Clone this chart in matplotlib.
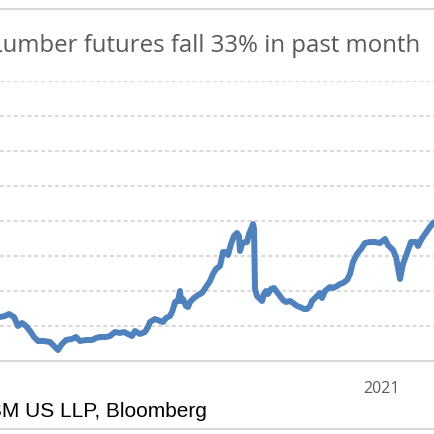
import matplotlib
matplotlib.use("Agg")
import matplotlib.pyplot as plt
from matplotlib.lines import Line2D

# months since Jan 2013
months = [0.5, 1.75, 2.75, 4, 5, 6, 7, 8, 9, 10, 11.5, 13, 14, 15, 16, 17, 18.5, 19.5, 20.5, 22,
          23.5, 24.5, 25.5, 27, 28, 29.25, 30.5, 31.5, 32.5, 33.5, 34.25, 35.5, 36.75, 37.5, 38,
          39.25, 40.5, 41.25, 42, 43, 43.5, 44, 44.25, 45, 45.5, 45.75, 46.25, 47, 47.5, 48, 49,
          50, 51, 52, 53, 53.75, 54.5, 55.5, 56.25, 57, 57.5, 58.25, 59, 59.75, 60.25, 60.5, 61,
          61.75, 62.25, 62.75, 63.5, 63.75, 64, 64.25, 64.75, 65.5, 66, 66.5, 67, 67.5, 68.25,
          69, 69.75, 70.5, 71.25, 72, 73, 73.75, 74.75, 75.5, 76.5, 77.25, 78, 78.5, 79.5, 80.5,
          81, 81.75, 83, 83.75, 84.75, 85.5, 86.25, 87.25, 88, 88.75, 89.75, 90.75, 91.75, 93,
          94.25, 95.5, 96.75, 97.5, 98.75, 99.5, 100.5, 101.25, 102.25, 103.25, 104.5, 105,
          105.75, 106.75, 108, 108.75, 109.25]
price = [125.7, 128.6, 134.3, 125.7, 100, 108.6, 100, 85.7, 68.6, 57.1, 57.1, 54.3, 42.9, 31.4,
         48.6, 60, 62.9, 68.6, 57.1, 60, 60, 65.7, 68.6, 68.6, 71.4, 82.9, 80, 82.9, 77.1, 71.4,
         85.7, 77.1, 82.9, 97.1, 111.4, 120, 114.3, 111.4, 122.9, 128.6, 140, 157.1, 168.6,
         171.4, 200, 171.4, 177.1, 157.1, 154.3, 168.6, 180, 188.6, 194.3, 211.4, 228.6, 248.6,
         262.9, 271.4, 311.4, 311.4, 302.9, 334.3, 357.1, 365.7, 357.1, 314.3, 334.3, 340, 340,
         362.9, 382.9, 391.4, 377.1, 205.7, 185.7, 177.1, 171.4, 191.4, 200, 191.4, 205.7,
         208.6, 197.1, 185.7, 174.3, 168.6, 171.4, 165.7, 157.1, 154.3, 148.6, 148.6, 157.1,
         171.4, 182.9, 194.3, 180, 200, 211.4, 208.6, 214.3, 220, 222.9, 231.4, 248.6, 282.9,
         305.7, 320, 337.1, 340, 340, 337.1, 348.6, 331.4, 317.1, 297.1, 234.3, 277.1, 308.6,
         340, 340, 328.6, 345.7, 362.9, 382.9, 394.3, 397.1]

title = "Lumber futures fall 33% in past month"
source = "Source: RSM US LLP, Bloomberg"
year_ticks = [96]
year_labels = ["2021"]

fig = plt.figure(figsize=(4.35, 4.35), dpi=100)
ax = fig.add_axes([0, 73 / 435, 1, 280 / 435])

ax.plot(months, price, color="#4F81BD", lw=4.3, solid_joinstyle="round",
        solid_capstyle="round", zorder=3)

ax.set_xlim(0.5, 109.25)
ax.set_ylim(0, 800)
ax.set_yticks(range(100, 801, 100))
ax.set_yticklabels([])
ax.yaxis.grid(True, color="#D9D9D9", lw=1.5, ls=(0, (1.9, 1.4)))
ax.set_xticks(year_ticks)
ax.set_xticklabels(year_labels, family="Open Sans", fontsize=11.5, color="#595959")
ax.tick_params(length=0)
ax.tick_params(axis="x", pad=14)
for s in ["top", "left", "right"]:
    ax.spines[s].set_visible(False)
ax.spines["bottom"].set_color("#D9D9D9")
ax.spines["bottom"].set_linewidth(1.5)

fig.add_artist(Line2D([0, 1], [425 / 435, 425 / 435], color="#D9D9D9", lw=1.5))
fig.add_artist(Line2D([0, 1], [5 / 435, 5 / 435], color="#D9D9D9", lw=1.5))

fig.text(420 / 435, (435 - 52) / 435, title, ha="right", va="baseline",
         fontsize=17.3, color="#595959", family="Open Sans")
fig.text(207 / 435, (435 - 417) / 435, source, ha="right", va="baseline",
         fontsize=15, color="black", family="Liberation Sans")

fig.savefig("out.png", dpi=100)
